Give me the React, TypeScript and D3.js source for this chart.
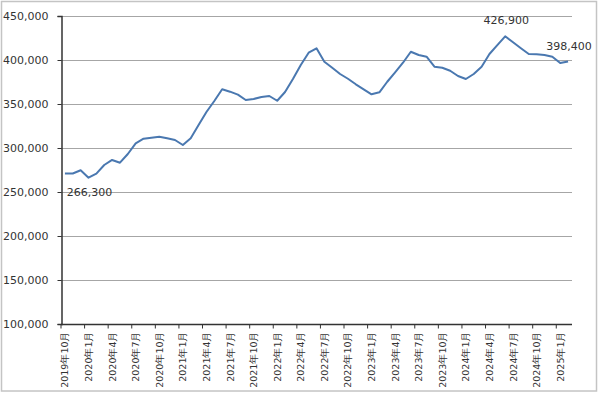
import { useEffect, useRef } from 'react';
import * as d3 from 'd3';

// monthly categories, 2019年10月 .. 2025年2月
const startYear = 2019;
const startMonth = 10;
const monthCount = 65;
const months = Array.from({ length: monthCount }, (_, i) => {
  const m = startMonth - 1 + i;
  return `${startYear + Math.floor(m / 12)}年${(m % 12) + 1}月`;
});

const values = [
  271000, 271000, 274700, 266300, 270800, 280700, 286400, 283300, 293200, 305300,
  310600, 311700, 312800, 311000, 309100, 303400, 311000, 326100, 340900, 353400,
  366700, 364000, 360600, 354500, 355700, 358000, 359100, 353700, 363600, 378400,
  394300, 408300, 413300, 398100, 391200, 384100, 378700, 372400, 366700, 361000,
  363300, 375300, 386000, 396900, 409400, 405700, 403700, 392400, 391200, 387800,
  381800, 378400, 384100, 392400, 406800, 417000, 426900, 420100, 413300, 406800,
  406500, 405700, 403700, 396500, 398400,
];

const yTicks = [100000, 150000, 200000, 250000, 300000, 350000, 400000, 450000];

// data labels: index + text, placed below or above the point
const callouts = [
  { index: 3, text: '266,300', dy: 18 },
  { index: 56, text: '426,900', dy: -12 },
  { index: 64, text: '398,400', dy: -11 },
];

export default function App() {
  const ref = useRef<SVGSVGElement>(null);

  useEffect(() => {
    if (!ref.current) return;
    const width = 600;
    const height = 393;
    const m = { left: 61, right: 28, top: 16, bottom: 69 };

    const svg = d3.select(ref.current);
    svg.selectAll('*').remove();

    svg.append('rect')
      .attr('x', 1.5).attr('y', 1.5)
      .attr('width', 595).attr('height', 389.5)
      .attr('fill', '#fff')
      .attr('stroke', '#c4c4c4')
      .attr('stroke-width', 1.5);

    const x = d3.scaleBand<number>()
      .domain(d3.range(monthCount))
      .range([m.left, width - m.right])
      .padding(0);
    const y = d3.scaleLinear()
      .domain([100000, 450000])
      .range([height - m.bottom, m.top]);

    const cx = (i: number) => (x(i) as number) + x.bandwidth() / 2;
    const fmt = d3.format(',');
    const font = 'DejaVu Sans, Verdana, sans-serif';

    // gridlines
    svg.append('g')
      .selectAll('line')
      .data(yTicks.slice(1))
      .join('line')
      .attr('x1', m.left).attr('x2', width - m.right)
      .attr('y1', d => Math.round(y(d)) + 0.5).attr('y2', d => Math.round(y(d)) + 0.5)
      .attr('stroke', '#a6a6a6')
      .attr('stroke-width', 1);

    // y axis
    const yAxis = svg.append('g')
      .attr('transform', `translate(${m.left + 0.5},0)`)
      .call(d3.axisLeft(y).tickValues(yTicks).tickSize(4).tickPadding(9).tickFormat(d => fmt(d as number)));
    yAxis.select('.domain').attr('stroke', '#333').attr('stroke-width', 1.5);
    yAxis.selectAll('.tick line').attr('stroke', '#333');
    yAxis.selectAll('text')
      .attr('fill', '#333')
      .style('font-family', font)
      .style('font-size', '11px');

    // x axis
    const xg = svg.append('g').attr('transform', `translate(0,${height - m.bottom + 0.5})`);
    xg.append('line')
      .attr('x1', m.left).attr('x2', width - m.right)
      .attr('stroke', '#333').attr('stroke-width', 1.5);
    const tickIdx = d3.range(0, monthCount, 3);
    xg.selectAll('line.tick')
      .data(tickIdx)
      .join('line')
      .attr('class', 'tick')
      .attr('x1', d => (x(d) as number)).attr('x2', d => (x(d) as number))
      .attr('y1', 0).attr('y2', 4)
      .attr('stroke', '#333');
    xg.selectAll('text')
      .data(tickIdx)
      .join('text')
      .attr('transform', d => `translate(${cx(d) + 3.5},7) rotate(-90)`)
      .attr('text-anchor', 'end')
      .attr('fill', '#333')
      .style('font-family', font)
      .style('font-size', '9.5px')
      .text(d => months[d]);

    // line
    const line = d3.line<number>()
      .x((_, i) => cx(i))
      .y(d => y(d));
    svg.append('path')
      .datum(values)
      .attr('d', line)
      .attr('fill', 'none')
      .attr('stroke', '#4a78b0')
      .attr('stroke-width', 2)
      .attr('stroke-linejoin', 'round');

    // data labels
    svg.append('g')
      .selectAll('text')
      .data(callouts)
      .join('text')
      .attr('x', d => cx(d.index) + 1)
      .attr('y', d => y(values[d.index]) + d.dy)
      .attr('text-anchor', 'middle')
      .attr('fill', '#333')
      .style('font-family', font)
      .style('font-size', '11px')
      .text(d => d.text);
  }, []);

  return (
    <svg
      ref={ref}
      width={600}
      height={393}
      style={{ position: 'absolute', left: 0, top: 0, display: 'block' }}
    />
  );
}
